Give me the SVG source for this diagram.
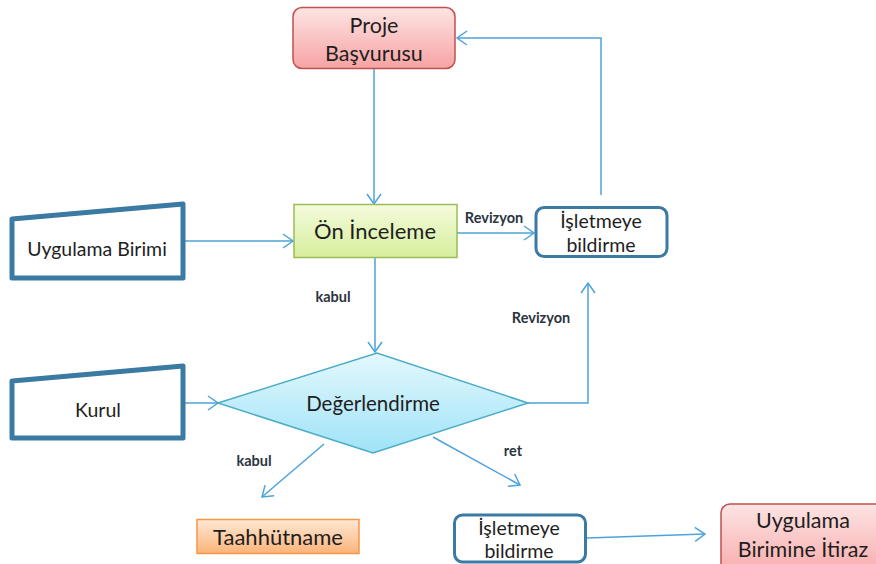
<svg xmlns="http://www.w3.org/2000/svg" width="876" height="564" viewBox="0 0 876 564">
<style>
.t{font-family:Lato,"Liberation Sans",sans-serif;fill:#1e1e1e;text-anchor:middle}
.lb{font-family:Lato,"Liberation Sans",sans-serif;font-weight:bold;fill:#2b3440;font-size:14.5px;text-anchor:middle}
.c{fill:none;stroke:#4da3dc;stroke-width:1.5}
.inp{fill:#fff;stroke:#3a7aa3;stroke-width:5;stroke-linejoin:round}
.isl{fill:#fff;stroke:#3a7aa3;stroke-width:3}
</style>
<defs>
<marker id="a" markerUnits="userSpaceOnUse" markerWidth="14" markerHeight="18" refX="11" refY="8" orient="auto" viewBox="0 0 14 16">
<path d="M1,1 L11,8 L1,15" fill="none" stroke="#4da3dc" stroke-width="1.5"/>
</marker>
<linearGradient id="gr" x1="0" y1="0" x2="0" y2="1"><stop offset="0" stop-color="#fde4e4"/><stop offset="1" stop-color="#f7a3a3"/></linearGradient>
<linearGradient id="gg" x1="0" y1="0" x2="0" y2="1"><stop offset="0" stop-color="#f4fbdc"/><stop offset="1" stop-color="#d6ee9c"/></linearGradient>
<linearGradient id="gb" x1="0" y1="0" x2="0" y2="1"><stop offset="0" stop-color="#e4f8fd"/><stop offset="1" stop-color="#9fe3f8"/></linearGradient>
<linearGradient id="go" x1="0" y1="0" x2="0" y2="1"><stop offset="0" stop-color="#fee8d4"/><stop offset="1" stop-color="#fbb47a"/></linearGradient>
</defs>
<g id="connectors">
<path class="c" d="M374,69 V204" marker-end="url(#a)"/>
<path class="c" d="M601,195 V38 H457" marker-end="url(#a)"/>
<path class="c" d="M183,241 H293" marker-end="url(#a)"/>
<path class="c" d="M457,233 H534" marker-end="url(#a)"/>
<path class="c" d="M375,258 V352" marker-end="url(#a)"/>
<path class="c" d="M183,403 H218" marker-end="url(#a)"/>
<path class="c" d="M528,403 H588 V283" marker-end="url(#a)"/>
<path class="c" d="M324,444 L262,497" marker-end="url(#a)"/>
<path class="c" d="M433,437 L520,485" marker-end="url(#a)"/>
<path class="c" d="M587,538 L705,534" marker-end="url(#a)"/>
<text class="lb" x="494" y="223">Revizyon</text>
<text class="lb" x="333" y="302">kabul</text>
<text class="lb" x="541" y="323">Revizyon</text>
<text class="lb" x="254" y="466">kabul</text>
<text class="lb" x="513" y="456">ret</text>
</g>
<g id="proje">
<rect x="293" y="7.5" width="162" height="61" rx="9" fill="url(#gr)" stroke="#c0504d" stroke-width="1.5"/>
<text class="t" x="374" y="33" font-size="21.5">Proje</text>
<text class="t" x="374" y="61" font-size="21.5">Başvurusu</text>
</g>
<g id="on-inceleme">
<rect x="294" y="204.5" width="163" height="53" fill="url(#gg)" stroke="#9bbb59" stroke-width="1.5"/>
<text class="t" x="375" y="239" font-size="22">Ön İnceleme</text>
</g>
<g id="isletmeye1">
<rect x="536" y="207.5" width="131" height="49" rx="8" class="isl"/>
<text class="t" x="601" y="228" font-size="19.5">İşletmeye</text>
<text class="t" x="601" y="252" font-size="19.5">bildirme</text>
</g>
<g id="uygulama-birimi">
<path class="inp" d="M12,219 L183,204 V278 H12 Z"/>
<text class="t" x="97" y="256" font-size="19.5">Uygulama Birimi</text>
</g>
<g id="kurul">
<path class="inp" d="M12,381 L183,366 V438 H12 Z"/>
<text class="t" x="98" y="417" font-size="19.5">Kurul</text>
</g>
<g id="degerlendirme">
<path d="M218,403 L377,353 L528,403 L373,453 Z" fill="url(#gb)" stroke="#4bacc6" stroke-width="1.5"/>
<text class="t" x="373" y="411" font-size="20.5">Değerlendirme</text>
</g>
<g id="taahhutname">
<rect x="197" y="519.5" width="162" height="34" fill="url(#go)" stroke="#f79646" stroke-width="1.5"/>
<text class="t" x="278" y="545" font-size="22">Taahhütname</text>
</g>
<g id="isletmeye2">
<rect x="454.5" y="515" width="131" height="47" rx="8" class="isl"/>
<text class="t" x="519" y="535" font-size="19.5">İşletmeye</text>
<text class="t" x="519" y="558" font-size="19.5">bildirme</text>
</g>
<g id="itiraz">
<rect x="721" y="504" width="170" height="80" rx="9" fill="url(#gr)" stroke="#c0504d" stroke-width="1.5"/>
<text class="t" x="803" y="528" font-size="21.5">Uygulama</text>
<text class="t" x="803" y="557" font-size="21.5">Birimine İtiraz</text>
</g>
</svg>
